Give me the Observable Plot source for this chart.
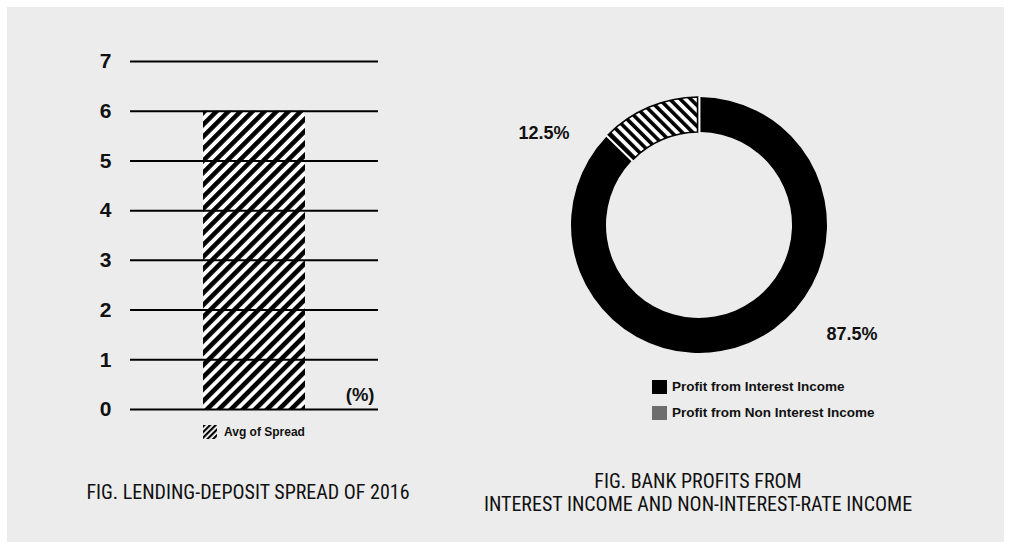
<!DOCTYPE html>
<html><head><meta charset="utf-8">
<script src="https://cdn.jsdelivr.net/npm/d3@7"></script>
<script src="https://cdn.jsdelivr.net/npm/@observablehq/plot@0.6"></script>
<style>
html,body{margin:0;padding:0;background:#fff;}
#page{position:relative;width:1010px;height:549px;background:#fff;overflow:hidden;font-family:"Liberation Sans",Arial,sans-serif;color:#111;}
#panel{position:absolute;left:7px;top:7px;width:997px;height:535px;background:#ececec;}
.abs{position:absolute;}
.cap{font-family:"Liberation Sans Narrow","Roboto Condensed",Roboto,sans-serif;font-size:20px;color:#111;text-align:center;white-space:nowrap;line-height:23px;}
.leg{font-weight:bold;font-size:12px;color:#111;white-space:nowrap;line-height:14px;}
svg{overflow:visible;}
</style></head><body>
<svg width="0" height="0" style="position:absolute">
  <defs>
    <pattern id="hatchBar" patternUnits="userSpaceOnUse" width="8.5" height="8.5" patternTransform="rotate(45)">
      <rect width="8.5" height="8.5" fill="#fff"></rect>
      <rect width="4.6" height="8.5" fill="#000"></rect>
    </pattern>
    <pattern id="hatchPie" patternUnits="userSpaceOnUse" width="7.4" height="7.4" patternTransform="rotate(-45)">
      <rect width="7.4" height="7.4" fill="#fff"></rect>
      <rect width="3.6" height="7.4" fill="#000"></rect>
    </pattern>
    <pattern id="hatchSw" patternUnits="userSpaceOnUse" width="4" height="4" patternTransform="rotate(45)">
      <rect width="4" height="4" fill="#fff"></rect>
      <rect width="2.2" height="4" fill="#000"></rect>
    </pattern>
  </defs>
</svg>
<div id="page">
  <div id="panel"></div>
  <div id="bar" class="abs" style="left:0;top:0"></div>
  <div id="pie" class="abs" style="left:449px;top:0"></div>
  <div class="abs leg" style="left:203px;top:425px;display:flex;align-items:center;">
    <svg width="14" height="14" style="margin-right:7px"><rect width="14" height="14" fill="url(#hatchSw)"></rect></svg>
    <span id="barLegend"></span>
  </div>
  <div id="pieLegend" class="abs" style="left:652px;top:380px;"></div>
  <div id="cap1" class="abs cap" style="left:48px;width:400px;top:481px;"></div>
  <div id="cap2" class="abs cap" style="left:448px;width:500px;top:470px;"></div>
</div>
<script>
// ---- data ----
const barCategories = ["Avg of Spread"];
const barValues = [6];
const yTicks = [0, 1, 2, 3, 4, 5, 6, 7];
const unitLabel = "(%)";

const pieLabels = ["Profit from Interest Income", "Profit from Non Interest Income"];
const pieValues = [87.5, 12.5];
const pieLegendColors = ["#000", "#6d6d6d"];
const pieValueLabels = ["87.5%", "12.5%"];

const caption1 = ["FIG. LENDING-DEPOSIT SPREAD OF 2016"];
const caption2 = ["FIG. BANK PROFITS FROM", "INTEREST INCOME AND NON-INTEREST-RATE INCOME"];

// ---- bar chart ----
const barData = barCategories.map((c, i) => ({cat: c, value: barValues[i]}));
const barPlot = Plot.plot({
  width: 480, height: 440,
  marginLeft: 130, marginRight: 102, marginTop: 61, marginBottom: 31,
  x: {domain: barCategories, padding: 0.417, axis: null},
  y: {domain: [0, 7], axis: null},
  style: {background: "transparent", fontFamily: "Liberation Sans, Arial, sans-serif", fontSize: "17px", fontWeight: "bold", color: "#111", overflow: "visible"},
  marks: [
    Plot.barY(barData, {x: "cat", y: "value", fill: "url(#hatchBar)"}),
    Plot.ruleY(yTicks, {stroke: "#000", strokeWidth: 2}),
    Plot.text(yTicks, {y: d => d, text: d => String(d), frameAnchor: "left", textAnchor: "end", dx: -19, fontSize: 21, fontWeight: "bold", fill: "#111"}),
    Plot.text([unitLabel], {text: d => d, frameAnchor: "bottom-right", dx: -4, dy: -9, fontSize: 18.5, fontWeight: "bold", fill: "#111"})
  ]
});
document.getElementById("bar").appendChild(barPlot);
document.getElementById("barLegend").textContent = barCategories[0];

// ---- donut chart ----
const pieData = pieLabels.map((l, i) => ({label: l, value: pieValues[i], text: pieValueLabels[i]}));
const labelOffsets = [[153, 109], [-155, -92]];
const piePlot = Plot.plot({
  width: 500, height: 440, margin: 0,
  style: {background: "transparent", overflow: "visible"},
  marks: [
    (index, scales, values, dims) => {
      const cx = dims.width / 2, cy = 225;
      const inner = 93, outer = 128;
      const g = d3.create("svg:g").attr("transform", `translate(${cx},${cy})`);
      const arcs = d3.pie().value(d => d.value).sort(null).padAngle(0.018)(pieData);
      const arc = d3.arc().innerRadius(inner).outerRadius(outer);
      g.append("path").attr("d", arc({startAngle: 0, endAngle: 2 * Math.PI, padAngle: 0})).attr("fill", "#fff");
      g.selectAll("path.slice").data(arcs).join("path")
        .attr("class", "slice")
        .attr("d", arc)
        .attr("fill", (d, i) => i === 0 ? "#000" : "url(#hatchPie)")
        .attr("stroke", (d, i) => i === 0 ? "none" : "#000")
        .attr("stroke-width", 1.6);
      g.selectAll("text").data(arcs).join("text")
        .attr("x", (d, i) => labelOffsets[i][0])
        .attr("y", (d, i) => labelOffsets[i][1])
        .attr("dy", "0.35em")
        .attr("text-anchor", "middle")
        .attr("font-family", "Liberation Sans, Arial, sans-serif")
        .attr("font-size", 18)
        .attr("font-weight", "bold")
        .attr("fill", "#111")
        .text(d => d.data.text);
      return g.node();
    }
  ]
});
document.getElementById("pie").appendChild(piePlot);

// legend
const pl = document.getElementById("pieLegend");
pieLabels.forEach((l, i) => {
  const row = document.createElement("div");
  row.className = "leg";
  row.style.cssText = "display:flex;align-items:center;height:14px;margin-bottom:12px;font-size:13.5px;";
  row.innerHTML = `<span style="display:inline-block;width:15px;height:14px;background:${pieLegendColors[i]};margin-right:5px"></span><span>${l}</span>`;
  pl.appendChild(row);
});

document.getElementById("cap1").innerHTML = caption1.join("<br>");
document.getElementById("cap2").innerHTML = caption2.join("<br>");
</script>
</body></html>
